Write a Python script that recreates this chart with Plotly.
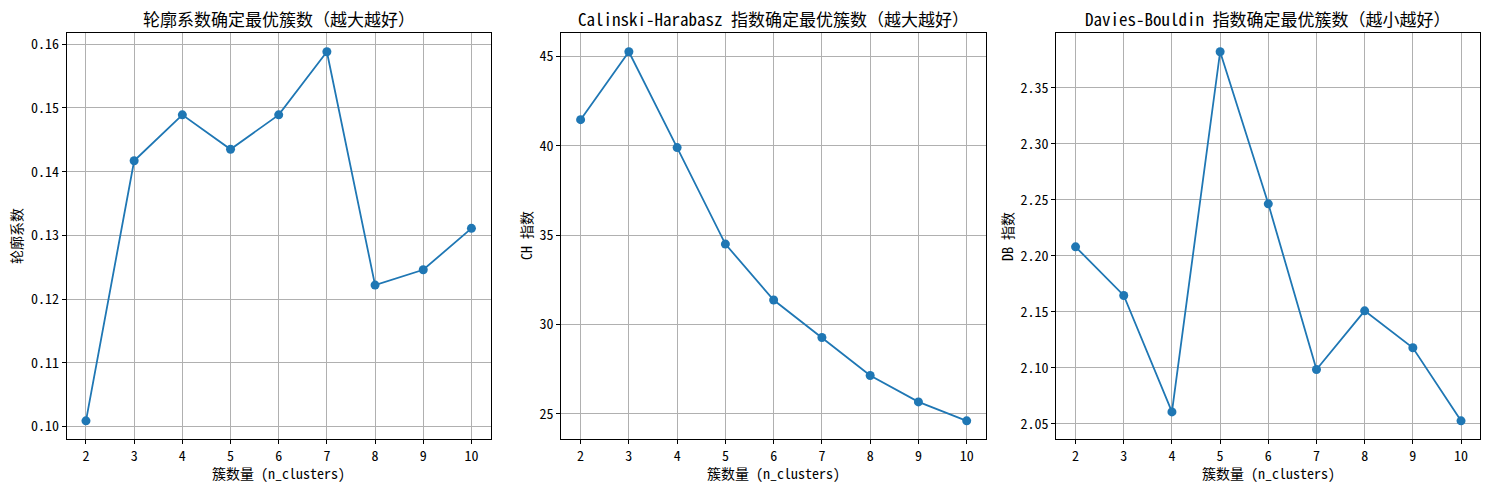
import plotly.graph_objects as go

# ── data ────────────────────────────────────────────────────
n_clusters = [2, 3, 4, 5, 6, 7, 8, 9, 10]
silhouette = [0.1009, 0.1417, 0.1489, 0.1435, 0.1489, 0.1588, 0.1222, 0.1246, 0.1311]
ch_index = [41.46, 45.26, 39.90, 34.50, 31.37, 29.27, 27.15, 25.67, 24.61]
db_index = [2.2080, 2.1646, 2.0607, 2.3821, 2.2464, 2.0985, 2.1509, 2.1179, 2.0527]

titles = [
    "轮廓系数确定最优簇数（越大越好）",
    "Calinski-Harabasz 指数确定最优簇数（越大越好）",
    "Davies-Bouldin 指数确定最优簇数（越小越好）",
]
ylabels = ["轮廓系数", "CH 指数", "DB 指数"]
xlabel = "簇数量 (n_clusters)"
ydticks = [0.01, 5, 0.05]
yformats = [".2f", "d", ".2f"]

FONT = "Noto Sans Mono CJK SC, Noto Sans CJK SC, sans-serif"
W, H = 1490, 490
x_domains = [(66.7, 490.7), (561.3, 986.0), (1056.3, 1480.3)]
ylabel_x = [16, 526, 1007]
top, bottom = 33.3, 439.3


def padded(vals, frac=0.05):
    lo, hi = min(vals), max(vals)
    pad = (hi - lo) * frac
    return [lo - pad, hi + pad]


fig = go.Figure()
annotations = []
series = [silhouette, ch_index, db_index]

for i, ys in enumerate(series):
    k = "" if i == 0 else str(i + 1)
    fig.add_trace(go.Scatter(
        x=n_clusters, y=ys, mode="lines+markers",
        line=dict(color="#1f77b4", width=1.8),
        marker=dict(color="#1f77b4", size=9),
        xaxis="x" + k, yaxis="y" + k, showlegend=False,
    ))
    axis_common = dict(
        showline=True, mirror=True, linecolor="black", linewidth=1,
        ticks="outside", ticklen=4, tickcolor="black",
        showgrid=True, gridcolor="#b0b0b0", gridwidth=1,
        zeroline=False, automargin=False,
        tickfont=dict(family=FONT, size=14, color="black"),
    )
    x0, x1 = x_domains[i]
    fig.update_layout(**{
        "xaxis" + k: dict(
            axis_common, domain=[x0 / W, x1 / W], anchor="y" + k,
            range=padded(n_clusters), tickmode="linear", tick0=2, dtick=1,
        ),
        "yaxis" + k: dict(
            axis_common, domain=[1 - bottom / H, 1 - top / H], anchor="x" + k,
            range=padded(ys), tickmode="linear", dtick=ydticks[i],
            tickformat=yformats[i],
        ),
    })
    cx = (x0 + x1) / 2 / W
    annotations.append(dict(
        text=titles[i], x=cx, y=1 - 18 / H, xref="paper", yref="paper",
        showarrow=False, font=dict(family=FONT, size=17, color="black"),
        xanchor="center", yanchor="middle",
    ))
    annotations.append(dict(
        text=xlabel, x=cx, y=1 - 473 / H, xref="paper", yref="paper",
        showarrow=False, font=dict(family=FONT, size=14, color="black"),
        xanchor="center", yanchor="middle",
    ))
    annotations.append(dict(
        text=ylabels[i], x=ylabel_x[i] / W, y=1 - 236 / H, xref="paper", yref="paper",
        showarrow=False, textangle=-90, font=dict(family=FONT, size=14, color="black"),
        xanchor="center", yanchor="middle",
    ))

fig.update_layout(
    template="none",
    width=W, height=H,
    margin=dict(l=0, r=0, t=0, b=0, pad=0),
    paper_bgcolor="white", plot_bgcolor="white",
    font=dict(family=FONT, color="black"),
    annotations=annotations,
)

# page body has a default 8px margin; drop it so the figure sits at 0,0
fig.write_html(
    "out.html",
    config={"displayModeBar": False},
    post_script="document.body.style.margin='0';",
)
